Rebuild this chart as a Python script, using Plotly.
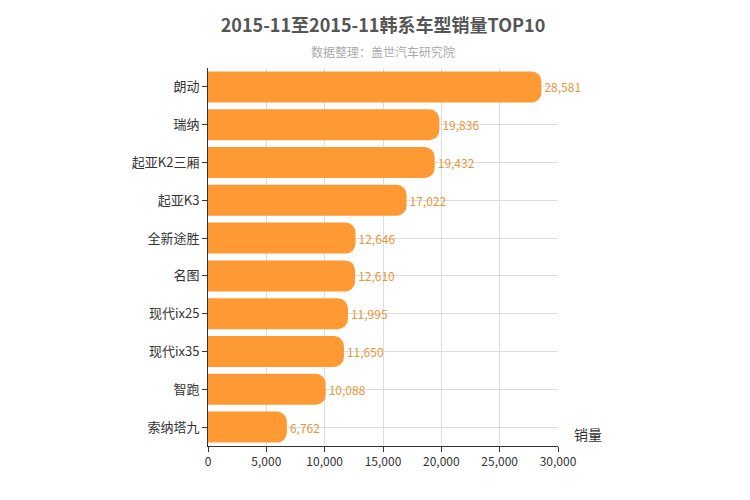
import plotly.graph_objects as go

categories = ["朗动", "瑞纳", "起亚K2三厢", "起亚K3", "全新途胜", "名图", "现代ix25", "现代ix35", "智跑", "索纳塔九"]
values = [28581, 19836, 19432, 17022, 12646, 12610, 11995, 11650, 10088, 6762]
tickvals = [0, 5000, 10000, 15000, 20000, 25000, 30000]
ticktext = ["0", "5,000", "10,000", "15,000", "20,000", "25,000", "30,000"]

font = "Microsoft YaHei, Noto Sans CJK SC, sans-serif"
fig = go.Figure(go.Bar(
    x=values, y=categories, orientation="h",
    marker=dict(color="#FF9933", line=dict(width=0)),
    text=[f"{v:,}" for v in values], textposition="outside",
    textfont=dict(color="#E8963A", size=12, family=font),
    cliponaxis=False, width=0.82,
))
fig.update_layout(
    width=750, height=500, plot_bgcolor="white", paper_bgcolor="white",
    margin=dict(l=200, r=200, t=60, b=62, autoexpand=False),
    barcornerradius=10, showlegend=False,
    font=dict(family=font, color="#333", size=12),
    title=dict(text="<b>2015-11至2015-11韩系车型销量TOP10</b>", x=0.5, xanchor="center",
               yref="container", y=0.965, yanchor="middle",
               font=dict(size=18, color="#555")),
    annotations=[
        dict(text="数据整理：盖世汽车研究院", x=0.5, xref="paper", xanchor="center",
             y=(500 - 43) / 500, yref="container" if False else "paper", yanchor="middle",
             showarrow=False, font=dict(size=12, color="#aaa")),
        dict(text="销量", x=1.04, xref="paper", xanchor="left", y=0, yref="paper", yanchor="bottom",
             showarrow=False, font=dict(size=14, color="#333")),
    ],
)
# place subtitle in paper coords: plot area from y=60 (top) to 438 (bottom), height 378
fig.layout.annotations[0].y = (438 - 43) / 378
fig.update_xaxes(range=[0, 30000], tickvals=tickvals, ticktext=ticktext, showgrid=True, gridcolor="#ddd",
                 showline=True, linecolor="#333", ticks="outside", tickcolor="#333", zeroline=False,
                 automargin=False)
fig.update_yaxes(categoryorder="array", categoryarray=categories[::-1], showgrid=True, gridcolor="#ddd",
                 showline=True, linecolor="#333", ticks="outside", tickcolor="#333", tickfont=dict(size=13),
                 automargin=False)
fig.write_html("out.html")
